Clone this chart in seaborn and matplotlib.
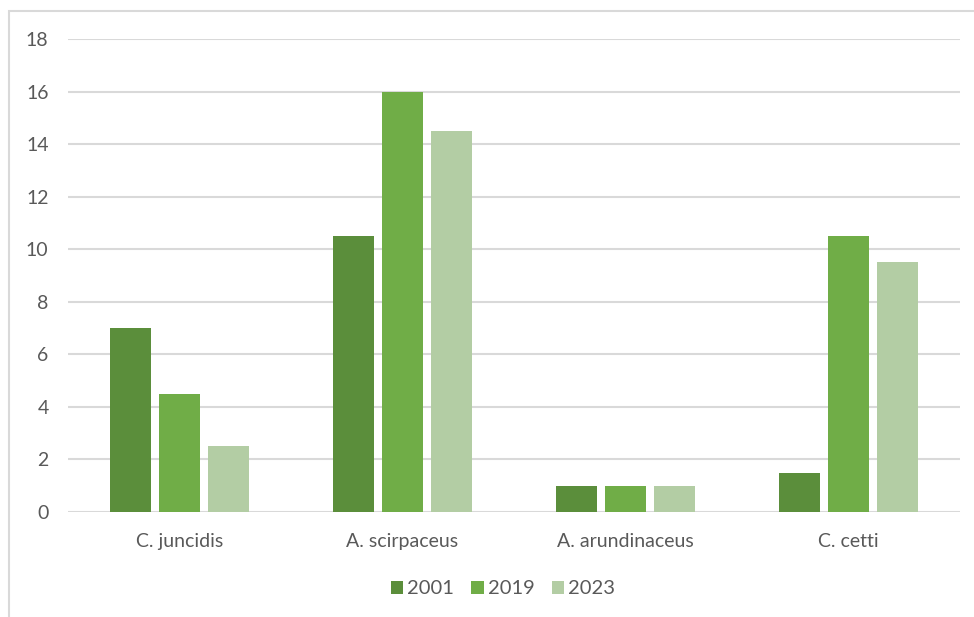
import matplotlib
matplotlib.use("Agg")
import matplotlib.pyplot as plt
from matplotlib.patches import Rectangle
import seaborn as sns
import pandas as pd

species = ["C. juncidis", "A. scirpaceus", "A. arundinaceus", "C. cetti"]
years = ["2001", "2019", "2023"]
counts_2001 = [7, 10.5, 1, 1.5]
counts_2019 = [4.5, 16, 1, 10.5]
counts_2023 = [2.5, 14.5, 1, 9.5]
yticks = [0, 2, 4, 6, 8, 10, 12, 14, 16, 18]

colors = ["#5B8E3B", "#70AD47", "#B3CDA4"]
text_color = "#595959"
grid_color = "#D9D9D9"

df = pd.DataFrame({
    "species": species * 3,
    "year": [y for y in years for _ in species],
    "count": counts_2001 + counts_2019 + counts_2023,
})

sns.set_theme(style="white")
plt.rcParams["font.family"] = ["Lato", "DejaVu Sans"]

W, H = 974, 617
fig = plt.figure(figsize=(W / 100, H / 100), dpi=100)
ax = fig.add_axes([68 / W, (H - 512) / H, (960 - 68) / W, (512 - 39) / H])

# outer chart frame (top and left edges visible)
fig.patches.append(Rectangle((9 / W, -0.1), 1.2, (H - 11) / H + 0.1,
                             transform=fig.transFigure, fill=False,
                             edgecolor="#D9D9D9", linewidth=1.5, zorder=0))

sns.barplot(data=df, x="species", y="count", hue="year", palette=colors,
            width=0.66, gap=0.18, saturation=1, linewidth=0, ax=ax, zorder=3)

ax.set_ylim(0, 18)
ax.set_yticks(yticks)
ax.set_yticklabels([str(t) for t in yticks])
ax.set_xlim(-0.5, len(species) - 0.5)
ax.yaxis.grid(True, color=grid_color, linewidth=1.5, zorder=0)
ax.set_axisbelow(True)
for s in ax.spines.values():
    s.set_visible(False)
ax.set_xlabel("")
ax.set_ylabel("")
ax.tick_params(axis="both", length=0, labelsize=14, colors=text_color)
ax.tick_params(axis="y", pad=14)
ax.tick_params(axis="x", pad=15)

handles, labels = ax.get_legend_handles_labels()
ax.legend_.remove()
fig.legend(handles, labels, loc="center", bbox_to_anchor=(503 / W, (H - 589) / H),
           ncol=3, frameon=False, fontsize=14.5, labelcolor=text_color,
           handlelength=0.62, handleheight=0.62, handletextpad=0.2, columnspacing=0.85)

fig.savefig("out.png", dpi=100, facecolor="white")
